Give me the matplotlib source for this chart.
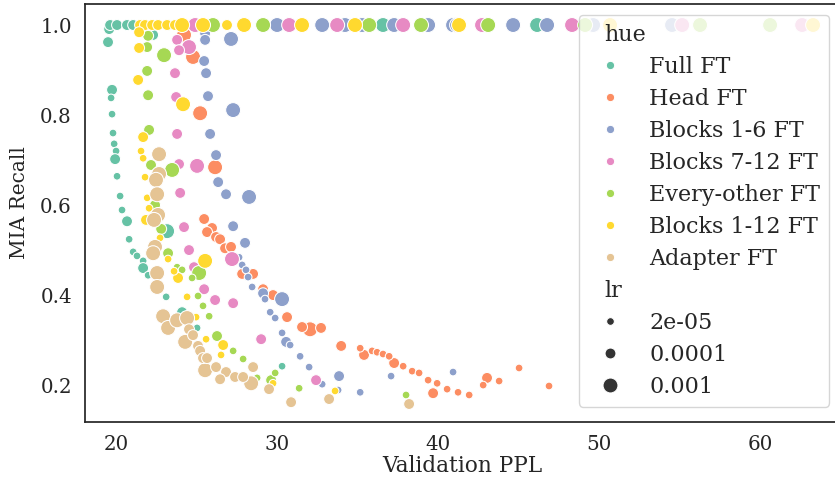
import matplotlib
matplotlib.use("Agg")
import matplotlib.pyplot as plt
from matplotlib.lines import Line2D
import numpy as np

plt.rcParams['font.family'] = ['DejaVu Serif']
plt.rcParams['text.color'] = '#262626'
plt.rcParams['axes.labelcolor'] = '#262626'
plt.rcParams['xtick.color'] = '#262626'
plt.rcParams['ytick.color'] = '#262626'

LO, MID, HI = 2e-05, 0.0001, 0.001
lr_levels = [LO, MID, HI]
lr_labels = ["2e-05", "0.0001", "0.001"]

methods = ["Full FT", "Head FT", "Blocks 1-6 FT", "Blocks 7-12 FT",
           "Every-other FT", "Blocks 1-12 FT", "Adapter FT"]
colors = ["#66c2a5", "#fc8d62", "#8da0cb", "#e78ac3", "#a6d854", "#ffd92f", "#e5c494"]

# Full FT
full_ppl = [19.57, 19.63, 20.06, 20.68, 21.06, 22.30, 36.58, 46.15, 19.50, 19.75, 19.69,
            19.75, 19.81, 19.88, 20.00, 19.94, 20.06, 20.25, 20.37, 20.68, 20.81, 21.06,
            21.30, 21.68, 21.68, 21.99, 23.11, 23.17, 24.10, 25.03, 30.31]
full_recall = [0.991, 1.0, 1.0, 1.0, 1.0, 0.978, 1.0, 1.0, 0.962, 0.856, 0.838,
               0.802, 0.760, 0.736, 0.720, 0.702, 0.664, 0.620, 0.589, 0.564, 0.524, 0.496,
               0.487, 0.476, 0.460, 0.444, 0.396, 0.542, 0.362, 0.327, 0.242]
full_lr = [MID, MID, MID, MID, MID, MID, HI, HI, MID, MID, LO,
           LO, LO, LO, LO, MID, LO, LO, LO, MID, LO, LO,
           LO, LO, MID, LO, LO, HI, MID, LO, LO]

# Head FT
head_ppl = [24.22, 24.78, 25.22, 26.15, 32.05,
            25.47, 25.96, 25.65, 26.21, 26.46, 26.77, 27.14, 27.83, 28.51, 29.13, 29.75,
            30.62, 31.55, 32.73, 33.98, 35.40, 37.27, 39.69, 43.04,
            35.16, 35.90, 36.21, 36.58, 36.96, 37.83, 38.39, 38.82, 39.38, 39.94, 40.56,
            41.24, 41.93, 42.80, 43.79, 45.03, 46.89]
head_recall = [0.978, 0.929, 0.804, 0.684, 0.324,
               0.569, 0.549, 0.540, 0.529, 0.524, 0.504, 0.507, 0.447, 0.447, 0.413, 0.400,
               0.351, 0.329, 0.327, 0.287, 0.267, 0.249, 0.182, 0.216,
               0.282, 0.276, 0.273, 0.269, 0.264, 0.242, 0.231, 0.227, 0.211, 0.204, 0.191,
               0.184, 0.178, 0.200, 0.209, 0.238, 0.198]
head_lr = [HI] * 5 + [MID] * 19 + [LO] * 17

# Blocks 1-6 FT
b16_ppl = [27.14, 27.27, 28.26, 30.31, 30.00, 32.80, 34.22, 35.28, 37.27, 39.38, 40.93,
           41.18, 44.66, 46.77, 49.63, 54.53,
           25.53, 25.53, 25.47, 25.59, 25.71, 25.84, 26.21, 26.34, 26.83, 27.27, 28.01,
           29.13, 30.56, 33.85,
           27.64, 27.83, 28.07, 28.20, 28.45, 29.25, 29.57, 29.88, 30.31, 30.81, 31.43,
           31.99, 32.80, 33.79, 35.16, 37.08, 40.93]
b16_recall = [0.969, 0.811, 0.618, 0.391, 1.0, 1.0, 1.0, 1.0, 1.0, 1.0, 1.0,
              1.0, 1.0, 1.0, 1.0, 1.0,
              0.982, 0.967, 0.920, 0.893, 0.842, 0.758, 0.711, 0.651, 0.624, 0.553, 0.516,
              0.404, 0.296, 0.220,
              0.484, 0.467, 0.456, 0.440, 0.418, 0.391, 0.362, 0.349, 0.316, 0.289, 0.264,
              0.240, 0.202, 0.189, 0.184, 0.220, 0.229]
b16_lr = [HI] * 16 + [MID] * 14 + [LO] * 17

# Blocks 7-12 FT
b712_ppl = [24.53, 25.03, 27.20, 24.91, 30.75, 33.73, 37.83, 42.73, 48.32, 55.16, 62.61,
            23.79, 23.91, 23.66, 23.73, 23.79, 23.91, 23.98, 24.22, 24.53, 24.84, 25.47,
            26.15, 27.27, 29.01, 32.42]
b712_recall = [0.951, 0.687, 0.480, 1.0, 1.0, 1.0, 1.0, 1.0, 1.0, 1.0, 1.0,
               0.967, 0.944, 0.893, 0.840, 0.758, 0.691, 0.627, 0.551, 0.500, 0.462, 0.413,
               0.389, 0.382, 0.302, 0.211]
b712_lr = [HI] * 11 + [MID] * 15

# Every-other FT
eo_ppl = [22.98, 23.48, 25.16, 26.02, 29.13, 35.72, 38.94, 43.11, 49.13, 56.27, 60.62,
          23.23, 21.99, 21.93, 21.93, 21.99, 22.05, 22.17, 22.42, 22.80, 23.23, 26.27, 29.63,
          23.79, 24.10, 24.72, 25.09, 25.40, 25.78, 27.27, 27.89, 28.76, 29.88, 31.37, 38.01]
eo_recall = [0.933, 0.678, 0.449, 1.0, 1.0, 1.0, 1.0, 1.0, 1.0, 1.0, 1.0,
             1.0, 0.976, 0.951, 0.898, 0.844, 0.767, 0.689, 0.600, 0.547, 0.493, 0.309, 0.211,
             0.462, 0.456, 0.438, 0.398, 0.376, 0.353, 0.276, 0.258, 0.216, 0.227, 0.193, 0.178]
eo_lr = [HI] * 11 + [MID] * 12 + [LO] * 12

# Blocks 1-12 FT
b112_ppl = [21.49, 21.80, 22.24, 22.61, 23.17, 23.66, 26.89, 21.43, 21.43, 21.37, 21.68,
            21.86, 23.85, 26.65,
            24.10, 25.40, 27.95, 31.55, 34.84, 41.30, 50.68, 63.29, 24.16, 25.53,
            21.55, 21.68, 21.80, 21.93, 22.05, 22.30, 22.73, 23.23, 23.60, 24.41, 24.97,
            25.59, 26.52, 29.75, 33.60]
b112_recall = [1.0, 1.0, 1.0, 1.0, 1.0, 1.0, 1.0, 0.984, 0.949, 0.878, 0.751,
               0.567, 0.438, 0.289,
               1.0, 1.0, 1.0, 1.0, 1.0, 1.0, 1.0, 1.0, 0.824, 0.476,
               0.720, 0.704, 0.662, 0.616, 0.593, 0.560, 0.527, 0.480, 0.453, 0.396, 0.351,
               0.302, 0.267, 0.204, 0.187]
b112_lr = [MID] * 14 + [HI] * 10 + [LO] * 15

# Adapter FT
ad_ppl = [22.67, 22.67, 22.48, 22.55, 22.61, 22.36, 22.42, 22.30, 22.55, 22.55, 22.92,
          23.23, 23.79, 24.41, 24.29, 25.53, 28.39,
          24.53, 24.78, 25.09, 25.22, 25.40, 25.65, 26.21, 26.83, 26.46, 27.39, 27.89,
          28.51, 29.50, 30.87, 33.23, 38.20]
ad_recall = [0.713, 0.669, 0.656, 0.624, 0.578, 0.567, 0.507, 0.493, 0.449, 0.418, 0.353,
             0.327, 0.344, 0.349, 0.296, 0.233, 0.204,
             0.324, 0.311, 0.287, 0.276, 0.260, 0.260, 0.240, 0.229, 0.213, 0.218, 0.218,
             0.240, 0.191, 0.162, 0.169, 0.158]
ad_lr = [HI] * 17 + [MID] * 16

series = [(full_ppl, full_recall, full_lr), (head_ppl, head_recall, head_lr),
          (b16_ppl, b16_recall, b16_lr), (b712_ppl, b712_recall, b712_lr),
          (eo_ppl, eo_recall, eo_lr), (b112_ppl, b112_recall, b112_lr),
          (ad_ppl, ad_recall, ad_lr)]

size_map = {LO: 31, MID: 62, HI: 116}

W, H = 835, 479
fig = plt.figure(figsize=(W / 100, H / 100), dpi=100)
ax = fig.add_axes([85 / W, 1 - 422 / H, (839 - 85) / W, (422 - 4) / H])

for (xs, ys, lrs), c in zip(series, colors):
    n = min(len(xs), len(ys), len(lrs))
    ax.scatter(xs[:n], ys[:n], s=[size_map[v] for v in lrs[:n]], c=c,
               edgecolors='white', linewidths=0.75, zorder=2)

ax.set_xlim(18.07, 64.9)
ax.set_ylim(0.118, 1.0467)
ax.set_xticks([20, 30, 40, 50, 60])
ax.set_yticks([0.2, 0.4, 0.6, 0.8, 1.0])
ax.tick_params(length=0, pad=9.4, labelsize=14.3)
for sp in ax.spines.values():
    sp.set_color('#262626')
    sp.set_linewidth(1.25)
ax.set_xlabel("Validation PPL", fontsize=15.6, labelpad=1)
ax.set_ylabel("MIA Recall", fontsize=14.5)
ax.yaxis.set_label_coords(-0.074, (422 - 203) / (422 - 4))

handles, labels = [], []
handles.append(Line2D([], [], visible=False)); labels.append("hue")
for m, c in zip(methods, colors):
    handles.append(Line2D([], [], marker='o', ls='', color=c, markersize=6.0,
                          markeredgecolor='white', markeredgewidth=0.75))
    labels.append(m)
handles.append(Line2D([], [], visible=False)); labels.append("lr")
for lv, lt in zip(lr_levels, lr_labels):
    handles.append(Line2D([], [], marker='o', ls='', color='#333333',
                          markersize=np.sqrt(size_map[lv]),
                          markeredgecolor='white', markeredgewidth=0.75))
    labels.append(lt)

leg = ax.legend(handles, labels, loc='upper right', fontsize=16,
                labelspacing=0.45, handlelength=2.0, handletextpad=0.76,
                bbox_to_anchor=(829 / W, 1 - 15 / H), bbox_transform=fig.transFigure,
                borderaxespad=0, framealpha=0.8, edgecolor='0.8')
for hpack in leg._legend_handle_box.get_children()[0].get_children():
    draw_area, text_area = hpack.get_children()
    if not all(a.get_visible() for a in draw_area.get_children()):
        draw_area.set_width(0)

fig.savefig("out.png", dpi=100)
